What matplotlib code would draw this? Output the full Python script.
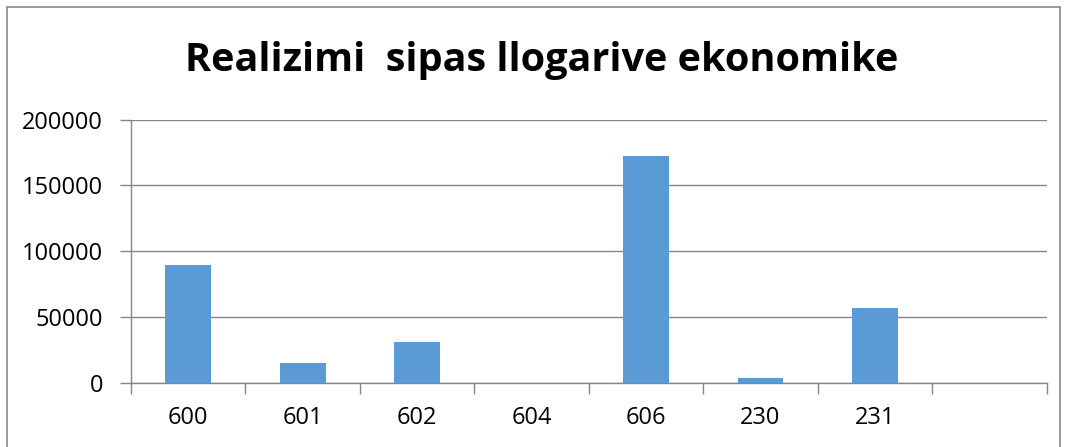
import matplotlib
matplotlib.use("Agg")
import matplotlib.pyplot as plt
from matplotlib.patches import Rectangle

categories = ["600", "601", "602", "604", "606", "230", "231", ""]
values = [89500, 14800, 30700, 0, 172400, 3350, 57000, 0]
yticks = [0, 50000, 100000, 150000, 200000]
title = "Realizimi  sipas llogarive ekonomike"

W, H = 1067, 447
fig = plt.figure(figsize=(W / 100, H / 100), dpi=100)
ax = fig.add_axes([131 / W, 1 - 382.7 / H, (1046.7 - 131) / W, (382.7 - 119.7) / H])

x = list(range(len(categories)))
ax.bar(x, values, width=0.4, color="#5B9BD5", zorder=3)
ax.set_xlim(-0.5, len(categories) - 0.5)
ax.set_ylim(0, 200000)
ax.set_yticks(yticks)
ax.set_yticklabels([str(v) for v in yticks])
ax.yaxis.grid(True, color="#868686", linewidth=1.0, zorder=0)
ax.set_xticks(x)
ax.set_xticklabels(categories)
ax.set_xticks([i - 0.5 for i in range(len(categories) + 1)], minor=True)
ax.tick_params(axis="x", which="major", length=0, pad=17, labelsize=17)
ax.tick_params(axis="x", which="minor", length=8, color="#868686", width=1)
ax.tick_params(axis="y", length=8, color="#868686", width=1, pad=12, labelsize=17)
for t in ax.get_xticklabels() + ax.get_yticklabels():
    t.set_fontfamily("Open Sans")
for s in ["top", "right"]:
    ax.spines[s].set_visible(False)
for s in ["left", "bottom"]:
    ax.spines[s].set_color("#868686")
    ax.spines[s].set_linewidth(1)

fig.text(542 / W, 1 - 61 / H, title, ha="center", va="center",
         fontsize=28.5, fontweight="bold", family="Open Sans")

fig.patches.append(Rectangle((7 / W, -0.1), (1060 - 7) / W, 1 - 7 / H + 0.1,
                             transform=fig.transFigure, fill=False,
                             edgecolor="#888888", linewidth=1.2))

fig.savefig("out.png", dpi=100)
